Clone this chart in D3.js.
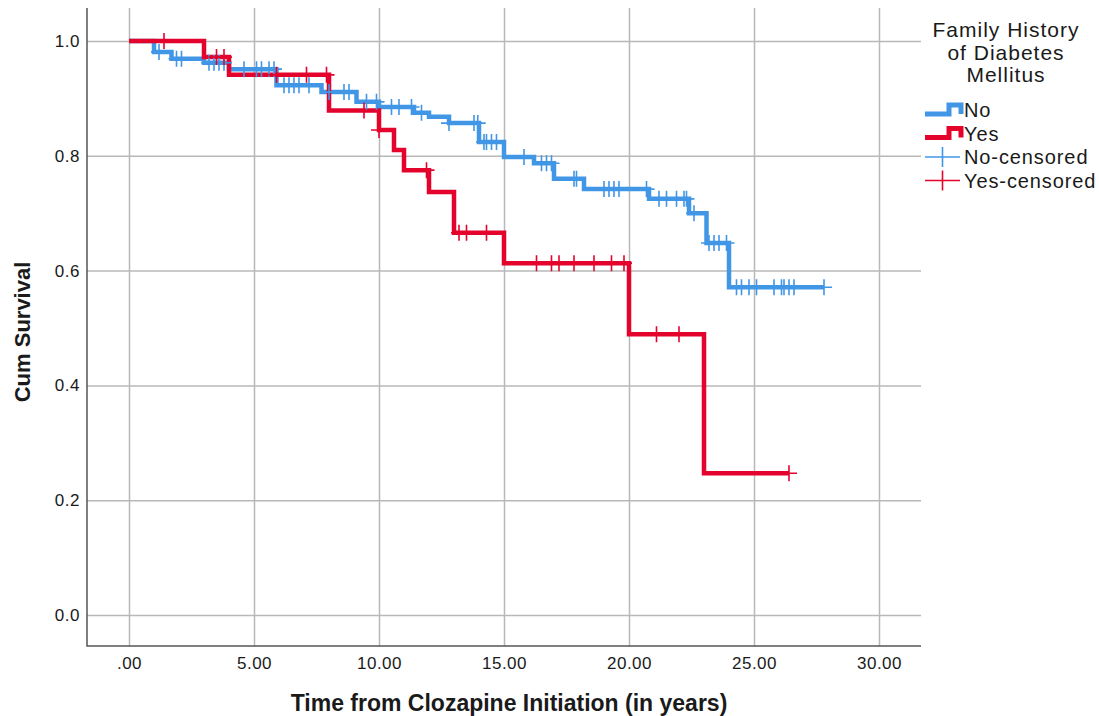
<!DOCTYPE html>
<html>
<head>
<meta charset="utf-8">
<script src="https://cdn.jsdelivr.net/npm/d3@7"></script>
<style>
  body { margin: 0; background: #fff; }
  text { font-family: "Liberation Sans", Arial, sans-serif; fill: #1a1a1a; }
</style>
</head>
<body>
<svg id="km-chart"></svg>
<script>
// Kaplan-Meier steps: event times and survival after each drop
const noTimes = [0, 1.0, 1.7, 3.0, 4.0, 5.9, 7.7, 9.1, 10.0, 11.4, 12.0, 12.8, 14.0, 15.0, 16.2, 17.0, 18.2, 20.8, 22.4, 23.1, 24.0]
const noSurv = [1.0, 0.981, 0.969, 0.962, 0.951, 0.923, 0.911, 0.894, 0.885, 0.875, 0.868, 0.857, 0.824, 0.798, 0.787, 0.760, 0.742, 0.725, 0.700, 0.648, 0.571]
const noEnd = 27.8
const noCensored = [1.2, 1.9, 2.1, 3.2, 3.4, 3.6, 3.8, 4.6, 5.1, 5.3, 5.6, 5.8, 6.2, 6.4, 6.6, 6.8, 7.2,
    8.0, 8.6, 8.8, 9.5, 9.9, 10.5, 10.8, 11.3, 11.7, 12.8, 13.8, 13.95, 14.2, 14.3, 14.5, 14.7, 15.8,
    16.5, 16.7, 16.9, 17.8, 17.9, 19.0, 19.2, 19.4, 19.6, 20.7, 21.2, 21.5, 21.9, 22.2, 22.3, 22.6,
    23.2, 23.4, 23.6, 23.9, 24.3, 24.5, 24.8, 25.1, 25.8, 26.1, 26.2, 26.4, 26.6, 27.8]

const yesTimes = [0, 3.0, 4.0, 8.0, 10.0, 10.6, 11.0, 12.0, 13.0, 15.0, 20.0, 23.0]
const yesSurv = [1.0, 0.972, 0.941, 0.879, 0.845, 0.810, 0.775, 0.737, 0.666, 0.613, 0.489, 0.247]
const yesEnd = 26.4
const yesCensored = [1.4, 3.5, 3.8, 5.9, 7.1, 7.9, 9.4, 10.0, 11.9, 13.2, 13.5, 14.3,
    16.3, 16.9, 17.2, 17.8, 18.6, 19.3, 19.8, 21.1, 22.0, 26.4]

const xTicks = [0, 5, 10, 15, 20, 25, 30]
const xTickLabels = [".00", "5.00", "10.00", "15.00", "20.00", "25.00", "30.00"]
const yTicks = [0, 0.2, 0.4, 0.6, 0.8, 1.0]
const yTickLabels = ["0.0", "0.2", "0.4", "0.6", "0.8", "1.0"]

const legendTitle = ["Family History", "of Diabetes", "Mellitus"]
const legendItems = ["No", "Yes", "No-censored", "Yes-censored"]

const blue = "#4196e6", red = "#e4032c"

let svgWidth = 1099, svgHeight = 716
let plot = {left: 87, right: 921, top: 8, bottom: 646} // plot box in pixels

let svg = d3.select("#km-chart")
    .attr("width", svgWidth)
    .attr("height", svgHeight)

let xScale = d3.scaleLinear()
    .domain([-1.68, 31.68])
    .range([plot.left, plot.right])

let yScale = d3.scaleLinear()
    .domain([-0.054, 1.0575])
    .range([plot.bottom, plot.top])

// grid via the axes, lines stretched across the plot
let xAxis = d3.axisBottom(xScale)
    .tickValues(xTicks)
    .tickFormat((d, i) => xTickLabels[i])
    .tickSize(-(plot.bottom - plot.top))
    .tickPadding(11)

let yAxis = d3.axisLeft(yScale)
    .tickValues(yTicks)
    .tickFormat((d, i) => yTickLabels[i])
    .tickSize(-(plot.right - plot.left))
    .tickPadding(7)

let gx = svg.append("g")
    .attr("transform", `translate(0, ${plot.bottom})`)
    .call(xAxis)
let gy = svg.append("g")
    .attr("transform", `translate(${plot.left}, 0)`)
    .call(yAxis)

for (let g of [gx, gy]) {
    g.select(".domain").remove()
    g.selectAll(".tick line").attr("stroke", "#b8b8b8").attr("stroke-width", 1.5)
    g.selectAll(".tick text")
        .style("font-size", "17px")
        .style("letter-spacing", "0.5px")
        .attr("fill", "#222")
}

// axis lines (left + bottom only)
svg.append("path")
    .attr("d", `M${plot.left},${plot.top}V${plot.bottom}H${plot.right}`)
    .attr("fill", "none")
    .attr("stroke", "#555")
    .attr("stroke-width", 1.5)

let stepLine = d3.line()
    .x(d => xScale(d[0]))
    .y(d => yScale(d[1]))
    .curve(d3.curveStepAfter)

function stepPoints(times, surv, end) {
    let pts = times.map((t, i) => [t, surv[i]])
    pts.push([end, surv[surv.length - 1]])
    return pts
}

function survAt(times, surv, t) {
    let i = d3.bisectRight(times, t) - 1
    return surv[Math.max(i, 0)]
}

svg.append("path") // No group
    .attr("d", stepLine(stepPoints(noTimes, noSurv, noEnd)))
    .attr("fill", "none")
    .attr("stroke", blue)
    .attr("stroke-width", 4.5)

svg.append("path") // Yes group
    .attr("d", stepLine(stepPoints(yesTimes, yesSurv, yesEnd)))
    .attr("fill", "none")
    .attr("stroke", red)
    .attr("stroke-width", 4.5)

function drawCensors(list, times, surv, color) {
    svg.append("g").selectAll("path")
        .data(list)
        .enter()
        .append("path")
        .attr("d", t => {
            let cx = xScale(t), cy = yScale(survAt(times, surv, t))
            return `M${cx - 8},${cy}H${cx + 8}M${cx},${cy - 8}V${cy + 8}`
        })
        .attr("stroke", color)
        .attr("stroke-width", 1.6)
        .attr("fill", "none")
}
drawCensors(noCensored, noTimes, noSurv, blue)
drawCensors(yesCensored, yesTimes, yesSurv, red)

// axis titles
svg.append("text")
    .attr("x", 509)
    .attr("y", 711)
    .attr("text-anchor", "middle")
    .style("font-size", "23px")
    .style("font-weight", "bold")
    .text("Time from Clozapine Initiation (in years)")

svg.append("text")
    .attr("transform", "translate(30, 332) rotate(-90)")
    .attr("text-anchor", "middle")
    .style("font-size", "22px")
    .style("font-weight", "bold")
    .text("Cum Survival")

// legend
let legend = svg.append("g")
legend.selectAll("text.title")
    .data(legendTitle)
    .enter()
    .append("text")
    .attr("class", "title")
    .attr("x", 1006)
    .attr("y", (d, i) => 37 + i * 22.5)
    .attr("text-anchor", "middle")
    .style("font-size", "21px")
    .style("letter-spacing", "1px")
    .text(d => d)

let legendColors = [blue, red, blue, red]
let items = legend.selectAll("g.item")
    .data(legendItems)
    .enter()
    .append("g")
    .attr("class", "item")
    .attr("transform", (d, i) => `translate(0, ${110 + i * 23.5})`)

items.append("text")
    .attr("x", 964)
    .attr("y", 7)
    .style("font-size", "20px")
    .style("letter-spacing", "0.9px")
    .text(d => d)

items.filter((d, i) => i < 2).append("path")
    .attr("d", "M925,4H949V-5H961V4")
    .attr("fill", "none")
    .attr("stroke", (d, i) => legendColors[i])
    .attr("stroke-width", 5)

items.filter((d, i) => i >= 2).append("path")
    .attr("d", "M925,0H960M942.5,-10V10")
    .attr("fill", "none")
    .attr("stroke", (d, i) => legendColors[i + 2])
    .attr("stroke-width", 1.6)
</script>
</body>
</html>
